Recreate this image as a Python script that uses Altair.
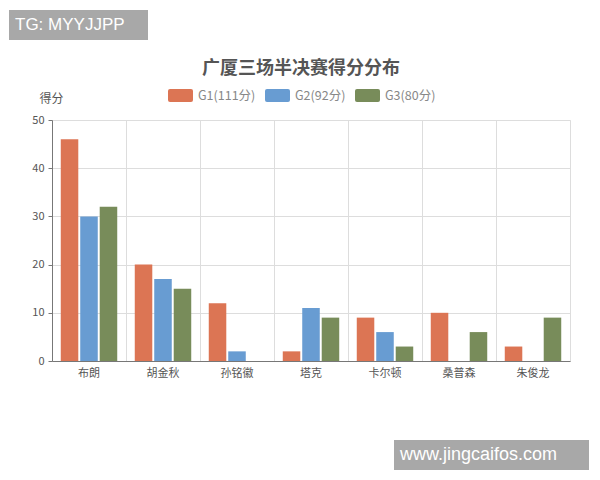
import altair as alt
import pandas as pd

players = ["布朗", "胡金秋", "孙铭徽", "塔克", "卡尔顿", "桑普森", "朱俊龙"]
series = ["G1(111分)", "G2(92分)", "G3(80分)"]
g1 = [46, 20, 12, 2, 9, 10, 3]
g2 = [30, 17, 2, 11, 6, 0, 0]
g3 = [32, 15, 0, 9, 3, 6, 9]
colors = ["#dc7554", "#689cd2", "#788c5a"]
title_text = "广厦三场半决赛得分分布"

rows = []
for i, p in enumerate(players):
    for s, vals in zip(series, [g1, g2, g3]):
        rows.append({"player": p, "series": s, "score": vals[i]})
df = pd.DataFrame(rows)

FONT = "Noto Sans CJK SC"
legend_shape = ("M-0.84,-0.52 L0.84,-0.52 Q1,-0.52 1,-0.36 L1,0.36 Q1,0.52 0.84,0.52 "
                "L-0.84,0.52 Q-1,0.52 -1,0.36 L-1,-0.36 Q-1,-0.52 -0.84,-0.52 Z")

bars = alt.Chart(df).mark_bar().encode(
    x=alt.X("player:N", sort=players, title=None,
            scale=alt.Scale(paddingInner=0, paddingOuter=0),
            axis=alt.Axis(labelAngle=0, grid=True, bandPosition=0, ticks=False,
                          labelPadding=6, labelFontSize=11, labelColor="#555",
                          domainColor="#777", gridColor="#dddddd", labelFont=FONT)),
    xOffset=alt.XOffset("series:N", sort=series,
                        scale=alt.Scale(paddingInner=0.1, paddingOuter=0.45)),
    y=alt.Y("score:Q", scale=alt.Scale(domain=[0, 50]),
            axis=alt.Axis(values=[0, 10, 20, 30, 40, 50], title="得分", titleAngle=0,
                          titleX=-1, titleY=-22, titleAlign="center", titleBaseline="middle",
                          titleFontWeight="normal", titleFontSize=12, titleColor="#555",
                          titleFont=FONT, labelFontSize=11, labelColor="#555",
                          labelFont=FONT, tickSize=4, tickColor="#777",
                          domainColor="#777", gridColor="#dddddd", labelPadding=4)),
    color=alt.Color("series:N", sort=series,
                    scale=alt.Scale(domain=series, range=colors),
                    legend=alt.Legend(title=None, orient="none", direction="horizontal",
                                      legendX=116, legendY=-37, symbolType=legend_shape,
                                      symbolSize=625, symbolStrokeWidth=0, symbolOpacity=1,
                                      labelFontSize=12.5, labelColor="#888", labelFont=FONT,
                                      labelOffset=5, columnPadding=9)),
)

one = alt.Data(values=[{}])
title_mark = alt.Chart(one).mark_text(
    text=title_text, color="#555", font=FONT, fontSize=18, fontWeight="bold",
    align="center", baseline="middle").encode(x=alt.value(249), y=alt.value(-51))
wm1_box = alt.Chart(one).mark_rect(color="#a8a8a8").encode(
    x=alt.value(-43), x2=alt.value(96), y=alt.value(-110), y2=alt.value(-80))
wm1_text = alt.Chart(one).mark_text(
    text="TG: MYYJJPP", color="white", font="Liberation Sans", fontSize=17,
    align="left", baseline="middle").encode(x=alt.value(-37), y=alt.value(-95))
wm2_box = alt.Chart(one).mark_rect(color="#a8a8a8").encode(
    x=alt.value(342), x2=alt.value(537), y=alt.value(320), y2=alt.value(350))
wm2_text = alt.Chart(one).mark_text(
    text="www.jingcaifos.com", color="white", font="Liberation Sans", fontSize=18,
    align="left", baseline="middle").encode(x=alt.value(348), y=alt.value(335))

chart = alt.layer(bars, title_mark, wm1_box, wm1_text, wm2_box, wm2_text).properties(
    width=518, height=241,
    autosize=alt.AutoSizeParams(type="none"),
    padding={"left": 44, "top": 112, "right": 22, "bottom": 111},
).configure_view(stroke="#dddddd", strokeWidth=1)

chart.save("out.html", embed_options={"renderer": "svg", "actions": False})
